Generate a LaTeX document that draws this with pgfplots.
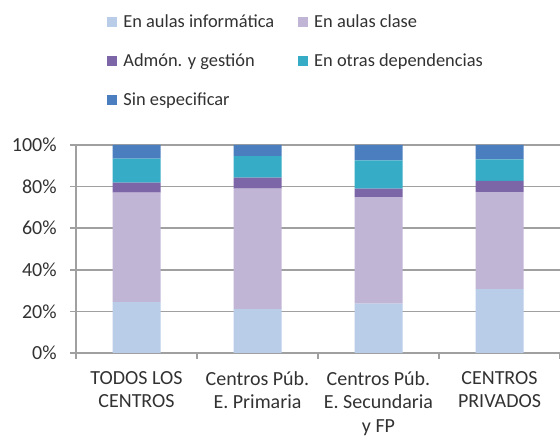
\documentclass[border=0pt]{standalone}
\usepackage{fontspec}
\setmainfont{Carlito}
\usepackage{pgfplots}
\pgfplotsset{compat=1.18}
\usetikzlibrary{calc}
\definecolor{cInfo}{RGB}{185,205,233}
\definecolor{cClase}{RGB}{193,181,213}
\definecolor{cAdmon}{RGB}{125,102,168}
\definecolor{cOtras}{RGB}{54,172,198}
\definecolor{cSin}{RGB}{74,126,190}
\definecolor{axisgray}{RGB}{160,160,160}
\definecolor{txt}{RGB}{50,50,50}
\begin{document}
\begin{tikzpicture}
\begin{axis}[
    name=ax,
    ybar stacked, bar width=24pt,
    width=242pt, height=104pt, scale only axis,
    xmin=-0.5, xmax=3.5, ymin=0, ymax=100,
    xtick={0,1,2,3},
    xticklabels={{TODOS LOS\\CENTROS},{Centros Púb.\\E. Primaria},
                 {Centros Púb.\\E. Secundaria\\y FP},{CENTROS\\PRIVADOS}},
    x tick label style={align=center, font=\fontsize{10}{11.7}\selectfont, inner sep=0pt, yshift=-6pt, text=txt},
    major x tick style={draw=none},
    extra x ticks={-0.5,0.5,1.5,2.5,3.5}, extra x tick labels={},
    extra x tick style={grid=none, major tick length=3pt,
        major x tick style={draw=axisgray, line width=0.75pt}},
    ytick={0,20,...,100},
    yticklabel={\pgfmathprintnumber{\tick}\%},
    y tick label style={font=\fontsize{10}{12}\selectfont, inner sep=0pt, xshift=-6.5pt, text=txt},
    /pgf/number format/assume math mode=true,
    tick align=outside, major tick length=3pt,
    tick style={axisgray, line width=0.75pt},
    axis x line*=bottom, axis y line*=left,
    axis line style={axisgray, line width=0.75pt},
    ymajorgrids, grid style={axisgray, line width=0.75pt},
    legend columns=2,
    legend cell align=left,
    legend style={at={(axis description cs:0.064,1.644)}, anchor=north west,
        draw=none, inner sep=0pt, row sep=8.5pt, text=txt,
        font=\fontsize{9.2}{11}\selectfont,
        nodes={inner sep=1pt, text height=7pt, text depth=2pt},
        /tikz/every odd column/.append style={column sep=2pt},
        /tikz/every even column/.append style={column sep=11pt}},
    legend image code/.code={\fill[#1] (0pt,-2.5pt) rectangle (5pt,2.5pt);},
]
\addplot[fill=cInfo, draw=none] coordinates {(0,24.5) (1,21.1) (2,23.7) (3,30.7)};
\addplot[fill=cClase, draw=none] coordinates {(0,52.6) (1,57.9) (2,51.2) (3,46.7)};
\addplot[fill=cAdmon, draw=none] coordinates {(0,4.8) (1,5.3) (2,4.1) (3,5.3)};
\addplot[fill=cOtras, draw=none] coordinates {(0,11.5) (1,10.4) (2,13.6) (3,10.4)};
\addplot[fill=cSin, draw=none] coordinates {(0,6.6) (1,5.3) (2,7.4) (3,6.9)};
\legend{En aulas informática, En aulas clase, Admón. y gestión, En otras dependencias, Sin especificar}
\end{axis}
\pgfresetboundingbox
\path ($(ax.south west)+(-38pt,-42pt)$) rectangle ($(ax.north east)+(0pt,72.5pt)$);
\end{tikzpicture}
\end{document}
